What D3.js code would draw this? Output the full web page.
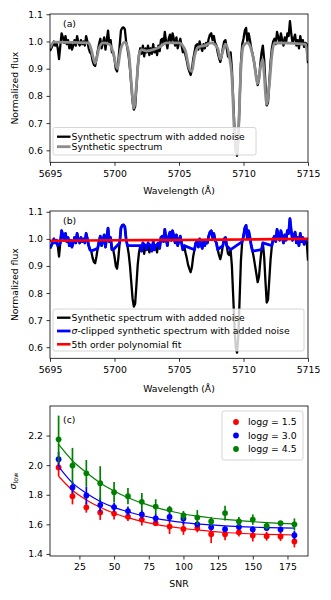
<!DOCTYPE html>
<html>
<head>
<meta charset="utf-8">
<script src="https://cdn.jsdelivr.net/npm/d3@7"></script>
<style>
    body { margin: 0; background: #fff; }
    text { font-family: "DejaVu Sans", sans-serif; fill: #000; }
</style>
</head>
<body>
<svg id="canvas" width="331" height="600"></svg>
<script>
/** Spectrum sampling: noisy spectrum is on a regular 0.1 A grid */
const waveStart = 5695;
const waveStep = 0.1;

const noisyFlux = [
    0.965, 0.975, 0.985, 1.000, 0.985, 0.995, 0.975, 0.935, 0.985, 1.030,
    1.015, 0.995, 1.020, 0.990, 1.005, 0.975, 0.995, 0.970, 0.985, 1.005,
    0.985, 1.020, 0.995, 0.985, 1.005, 0.990, 1.000, 0.985, 1.020, 1.000,
    0.975, 0.960, 0.955, 0.930, 0.915, 0.910, 0.935, 0.965, 0.990, 1.010,
    0.975, 0.995, 1.015, 0.970, 1.005, 1.040, 0.990, 1.005, 0.960, 0.960,
    0.935, 0.900, 0.890, 0.930, 0.985, 1.040, 1.050, 1.052, 1.045, 1.000,
    0.975, 0.945, 0.900, 0.840, 0.780, 0.750, 0.760, 0.830, 0.905, 0.950,
    0.975, 0.955, 0.985, 0.945, 0.975, 0.960, 0.985, 0.950, 0.975, 0.955,
    0.990, 0.960, 0.975, 0.950, 0.985, 0.965, 1.005, 1.010, 0.990, 1.035,
    1.000, 0.975, 1.010, 1.025, 0.995, 1.030, 1.010, 0.985, 1.015, 0.975,
    0.995, 1.010, 0.985, 0.960, 0.975, 0.950, 0.930, 0.905, 0.890, 0.877,
    0.895, 0.935, 0.960, 0.985, 0.990, 0.970, 1.000, 0.980, 0.965, 0.990,
    0.975, 0.995, 0.985, 1.010, 1.025, 1.030, 1.005, 1.020, 0.995, 0.985,
    0.960, 0.940, 0.925, 0.945, 0.975, 1.000, 1.005, 0.975, 0.945, 0.940,
    0.960, 0.900, 0.790, 0.680, 0.600, 0.580, 0.640, 0.780, 0.920, 0.990,
    1.010, 1.040, 1.050, 1.000, 1.030, 1.005, 0.975, 0.955, 0.930, 0.900,
    0.870, 0.840, 0.860, 0.915, 0.960, 0.985, 0.935, 0.845, 0.765, 0.775,
    0.850, 0.925, 0.975, 1.000, 1.010, 0.990, 1.035, 1.015, 0.995, 1.030,
    1.005, 0.985, 1.015, 0.995, 1.030, 1.020, 1.075, 1.030, 0.995, 1.010,
    1.025, 0.985, 1.005, 0.975, 1.020, 0.990, 1.005, 0.980, 0.995, 0.990,
    0.920
];

/** Noise-free synthetic spectrum, read at its turning points */
const synthWave = [
    5695.0, 5695.3, 5698.0, 5698.2, 5698.5, 5698.8, 5699.1, 5699.6, 5699.9, 5700.2,
    5700.5, 5700.8, 5701.1, 5701.3, 5701.5, 5701.7, 5701.9, 5702.1, 5702.5, 5703.0,
    5703.5, 5704.0, 5705.0, 5705.5, 5705.8, 5706.0, 5706.2, 5706.5, 5707.0, 5707.5,
    5708.0, 5708.2, 5708.4, 5708.6, 5708.9, 5709.1, 5709.3, 5709.45, 5709.6, 5709.8,
    5710.0, 5710.3, 5710.5, 5710.8, 5711.1, 5711.3, 5711.5, 5711.6, 5711.8, 5712.0,
    5712.2, 5712.4, 5714.8, 5715.0
];
const synthFlux = [
    0.975, 0.998, 0.995, 0.970, 0.920, 0.975, 0.995, 0.990, 0.960, 0.900,
    0.975, 0.998, 0.960, 0.850, 0.755, 0.840, 0.950, 0.970, 0.965, 0.970,
    0.980, 0.995, 0.995, 0.965, 0.900, 0.890, 0.945, 0.980, 0.985, 0.995,
    0.975, 0.935, 0.965, 0.990, 0.945, 0.870, 0.660, 0.590, 0.660, 0.900,
    0.985, 0.995, 0.985, 0.930, 0.845, 0.900, 0.935, 0.880, 0.770, 0.840,
    0.950, 0.995, 0.990, 0.930
];

/** sigma-clipping lower limit and the 5th order polynomial fit */
const clipLow = 0.955;
const polyWave = [5695, 5700, 5705, 5710, 5715];
const polyFlux = [0.993, 0.995, 0.996, 0.998, 1.000];

const waveTicks = [5695, 5700, 5705, 5710, 5715];
const fluxTicks = [0.6, 0.7, 0.8, 0.9, 1.0, 1.1];

/** Panel (c) data */
const snr = [10, 20, 30, 40, 50, 60, 70, 80, 90, 100, 110, 120, 130, 140, 150, 160, 170, 180];
const loggNames = ['1.5', '3.0', '4.5'];
const loggColors = ['#ff0000', '#0000ff', '#008000'];

const sigmaLow15 = [1.985, 1.790, 1.714, 1.680, 1.673, 1.652, 1.632, 1.608, 1.585, 1.569, 1.576, 1.533, 1.533, 1.547, 1.524, 1.520, 1.518, 1.484];
const sigmaErr15 = [0.060, 0.055, 0.035, 0.050, 0.040, 0.030, 0.040, 0.020, 0.050, 0.040, 0.030, 0.060, 0.040, 0.030, 0.040, 0.030, 0.030, 0.040];
const sigmaFit15 = [1.925, 1.830, 1.765, 1.715, 1.675, 1.645, 1.620, 1.600, 1.585, 1.572, 1.562, 1.552, 1.545, 1.540, 1.535, 1.532, 1.530, 1.528];

const sigmaLow30 = [2.040, 1.849, 1.795, 1.730, 1.716, 1.690, 1.668, 1.641, 1.650, 1.640, 1.600, 1.580, 1.567, 1.582, 1.565, 1.576, 1.565, 1.527];
const sigmaErr30 = [0.050, 0.040, 0.060, 0.050, 0.030, 0.030, 0.030, 0.030, 0.030, 0.040, 0.020, 0.020, 0.020, 0.020, 0.020, 0.020, 0.020, 0.030];
const sigmaFit30 = [1.990, 1.880, 1.810, 1.755, 1.715, 1.685, 1.660, 1.640, 1.625, 1.612, 1.603, 1.596, 1.590, 1.585, 1.581, 1.578, 1.576, 1.575];

const sigmaLow45 = [2.175, 1.997, 1.945, 1.878, 1.817, 1.790, 1.752, 1.720, 1.700, 1.660, 1.646, 1.620, 1.676, 1.620, 1.632, 1.590, 1.608, 1.600];
const sigmaErr45 = [0.160, 0.120, 0.090, 0.115, 0.070, 0.055, 0.060, 0.050, 0.025, 0.030, 0.050, 0.030, 0.050, 0.030, 0.035, 0.025, 0.010, 0.040];
const sigmaFit45 = [2.140, 2.030, 1.950, 1.880, 1.825, 1.780, 1.745, 1.715, 1.690, 1.670, 1.655, 1.643, 1.633, 1.625, 1.618, 1.612, 1.607, 1.603];

const snrTicks = [25, 50, 75, 100, 125, 150, 175];
const sigmaTicks = [1.4, 1.6, 1.8, 2.0, 2.2];

const svg = d3.select('#canvas');
const fs = 9.3;

/** Build the rows used by the line generators */
const noisyRows = noisyFlux.map((f, i) => ({ w: waveStart + i * waveStep, f: f }));
const synthRows = synthWave.map((w, i) => ({ w: w, f: synthFlux[i] }));
const clippedRows = noisyRows.filter((d) => d.f >= clipLow);
const polyRows = polyWave.map((w, i) => ({ w: w, f: polyFlux[i] }));

const left = 50;
const right = 308;

/** Draw frame, ticks and labels of one axes box */
const drawAxes = (g, x, y, xTicks, yTicks, xFmt, yFmt, top, bottom) => {
    g.append('g')
        .attr('transform', `translate(0,${bottom})`)
        .call(d3.axisBottom(x).tickValues(xTicks).tickFormat(xFmt).tickSize(3.5).tickPadding(4.2))
        .call((a) => a.select('.domain').remove());
    g.append('g')
        .attr('transform', `translate(${left},0)`)
        .call(d3.axisLeft(y).tickValues(yTicks).tickFormat(yFmt).tickSize(3.5).tickPadding(3.5))
        .call((a) => a.select('.domain').remove());
    g.selectAll('.tick text')
        .style('font-family', '"DejaVu Sans", sans-serif')
        .style('font-size', fs + 'px')
        .attr('fill', '#000');
    g.selectAll('.tick line').attr('stroke', '#000').attr('stroke-width', 0.8);
    g.append('rect')
        .attr('x', left).attr('y', top)
        .attr('width', right - left).attr('height', bottom - top)
        .attr('fill', 'none').attr('stroke', '#000').attr('stroke-width', 0.8);
};

/** Clip region for a panel */
const addClip = (id, top, bottom) => {
    svg.append('clipPath').attr('id', id)
        .append('rect')
        .attr('x', left).attr('y', top)
        .attr('width', right - left).attr('height', bottom - top);
};

/** Legend box with semi-transparent white fill */
const legendBox = (g, x0, y0, w, h) => {
    g.append('rect')
        .attr('x', x0).attr('y', y0).attr('width', w).attr('height', h)
        .attr('rx', 2)
        .attr('fill', '#fff').attr('fill-opacity', 0.8)
        .attr('stroke', '#cccccc').attr('stroke-width', 0.8);
};

const legendLine = (g, yRow, color, width, label) => {
    g.append('line')
        .attr('x1', 57).attr('x2', 70.5)
        .attr('y1', yRow).attr('y2', yRow)
        .attr('stroke', color).attr('stroke-width', width);
    return g.append('text')
        .attr('x', 71.5).attr('y', yRow + 3.3)
        .style('font-size', fs + 'px')
        .text(label);
};

const fmt1 = d3.format('.1f');

/** ---------- Panel (a) ---------- */
const drawPanelA = () => {
    const top = 14, bottom = 162.3;
    const x = d3.scaleLinear().domain([5695, 5715]).range([left, right]);
    const y = d3.scaleLinear().domain([0.556, 1.101]).range([bottom, top]);
    const line = d3.line().x((d) => x(d.w)).y((d) => y(d.f));
    const g = svg.append('g');

    addClip('clipA', top, bottom);
    const plot = g.append('g').attr('clip-path', 'url(#clipA)');
    plot.append('path').datum(noisyRows)
        .attr('d', line).attr('fill', 'none')
        .attr('stroke', '#000').attr('stroke-width', 2.3).attr('stroke-linejoin', 'round');
    plot.append('path').datum(synthRows)
        .attr('d', line.curve(d3.curveMonotoneX)).attr('fill', 'none')
        .attr('stroke', '#8c8c8c').attr('stroke-width', 2.8).attr('stroke-linejoin', 'round');

    drawAxes(g, x, y, waveTicks, fluxTicks, d3.format('d'), fmt1, top, bottom);

    g.append('text').attr('x', 63).attr('y', 26.5).style('font-size', fs + 'px').text('(a)');
    g.append('text').attr('x', (left + right) / 2).attr('y', 194)
        .attr('text-anchor', 'middle').style('font-size', fs + 'px').text('Wavelength (Å)');
    g.append('text').attr('transform', `translate(18,${(top + bottom) / 2}) rotate(-90)`)
        .attr('text-anchor', 'middle').style('font-size', fs + 'px').text('Normalized flux');

    legendBox(g, 53, 127.5, 203, 27.5);
    legendLine(g, 136.7, '#000', 2.3, 'Synthetic spectrum with added noise');
    legendLine(g, 146.7, '#8c8c8c', 2.8, 'Synthetic spectrum');
};

/** ---------- Panel (b) ---------- */
const drawPanelB = () => {
    const top = 211, bottom = 358.3;
    const x = d3.scaleLinear().domain([5695, 5715]).range([left, right]);
    const y = d3.scaleLinear().domain([0.559, 1.103]).range([bottom, top]);
    const line = d3.line().x((d) => x(d.w)).y((d) => y(d.f));
    const g = svg.append('g');

    addClip('clipB', top, bottom);
    const plot = g.append('g').attr('clip-path', 'url(#clipB)');
    plot.append('path').datum(noisyRows)
        .attr('d', line).attr('fill', 'none')
        .attr('stroke', '#000').attr('stroke-width', 2.3).attr('stroke-linejoin', 'round');
    plot.append('path').datum(clippedRows)
        .attr('d', line).attr('fill', 'none')
        .attr('stroke', '#0000ff').attr('stroke-width', 2.8).attr('stroke-linejoin', 'round');
    plot.append('path').datum(polyRows)
        .attr('d', line.curve(d3.curveMonotoneX)).attr('fill', 'none')
        .attr('stroke', '#ff0000').attr('stroke-width', 2.6);

    drawAxes(g, x, y, waveTicks, fluxTicks, d3.format('d'), fmt1, top, bottom);

    g.append('text').attr('x', 63).attr('y', 223.5).style('font-size', fs + 'px').text('(b)');
    g.append('text').attr('x', (left + right) / 2).attr('y', 391.5)
        .attr('text-anchor', 'middle').style('font-size', fs + 'px').text('Wavelength (Å)');
    g.append('text').attr('transform', `translate(18,${(top + bottom) / 2}) rotate(-90)`)
        .attr('text-anchor', 'middle').style('font-size', fs + 'px').text('Normalized flux');

    legendBox(g, 53, 309, 251, 42);
    legendLine(g, 317.7, '#000', 2.3, 'Synthetic spectrum with added noise');
    const t = legendLine(g, 331, '#0000ff', 2.8, '');
    t.append('tspan').style('font-style', 'italic').text('σ');
    t.append('tspan').text('-clipped synthetic spectrum with added noise');
    legendLine(g, 344.3, '#ff0000', 2.6, '5th order polynomial fit');
};

/** ---------- Panel (c) ---------- */
const drawPanelC = () => {
    const top = 406, bottom = 556;
    const x = d3.scaleLinear().domain([3.8, 189.8]).range([left, right]);
    const y = d3.scaleLinear().domain([1.386, 2.40]).range([bottom, top]);
    const g = svg.append('g');

    const groups = [
        { vals: sigmaLow15, errs: sigmaErr15, fit: sigmaFit15 },
        { vals: sigmaLow30, errs: sigmaErr30, fit: sigmaFit30 },
        { vals: sigmaLow45, errs: sigmaErr45, fit: sigmaFit45 }
    ];

    const fitLine = d3.line()
        .x((d) => x(d.s)).y((d) => y(d.v))
        .curve(d3.curveMonotoneX);

    groups.forEach((grp, k) => {
        const color = loggColors[k];
        const rows = snr.map((s, i) => ({ s: s, v: grp.vals[i], e: grp.errs[i] }));
        const layer = g.append('g');

        /** error bars */
        layer.selectAll('line.err')
            .data(rows)
            .enter()
            .append('line')
            .attr('class', 'err')
            .attr('x1', (d) => x(d.s)).attr('x2', (d) => x(d.s))
            .attr('y1', (d) => y(d.v - d.e)).attr('y2', (d) => y(d.v + d.e))
            .attr('stroke', color).attr('stroke-width', 1.7);

        /** markers */
        layer.selectAll('circle')
            .data(rows)
            .enter()
            .append('circle')
            .attr('cx', (d) => x(d.s)).attr('cy', (d) => y(d.v))
            .attr('r', 2.9)
            .attr('fill', color);

        /** fitted curve */
        layer.append('path')
            .datum(snr.map((s, i) => ({ s: s, v: grp.fit[i] })))
            .attr('d', fitLine)
            .attr('fill', 'none')
            .attr('stroke', color).attr('stroke-width', 1.2);
    });

    drawAxes(g, x, y, snrTicks, sigmaTicks, d3.format('d'), fmt1, top, bottom);

    g.append('text').attr('x', 63).attr('y', 422.5).style('font-size', fs + 'px').text('(c)');
    g.append('text').attr('x', (left + right) / 2).attr('y', 587)
        .attr('text-anchor', 'middle').style('font-size', fs + 'px').text('SNR');

    const yl = g.append('text')
        .attr('transform', `translate(16,${(top + bottom) / 2}) rotate(-90)`)
        .attr('text-anchor', 'middle').style('font-size', fs + 'px');
    yl.append('tspan').style('font-style', 'italic').text('σ');
    yl.append('tspan').attr('dy', 2.2).style('font-size', '6.5px').text('low');

    /** legend */
    legendBox(g, 222, 411, 81, 49);
    const rowsY = [422, 435.5, 449];
    loggNames.forEach((name, k) => {
        g.append('circle')
            .attr('cx', 236).attr('cy', rowsY[k]).attr('r', 2.9)
            .attr('fill', loggColors[k]);
        const t = g.append('text')
            .attr('x', 248).attr('y', rowsY[k] + 3.3)
            .style('font-size', fs + 'px');
        t.append('tspan').text('log');
        t.append('tspan').style('font-style', 'italic').text('g');
        t.append('tspan').text(` = ${name}`);
    });
};

drawPanelA();
drawPanelB();
drawPanelC();
</script>
</body>
</html>
